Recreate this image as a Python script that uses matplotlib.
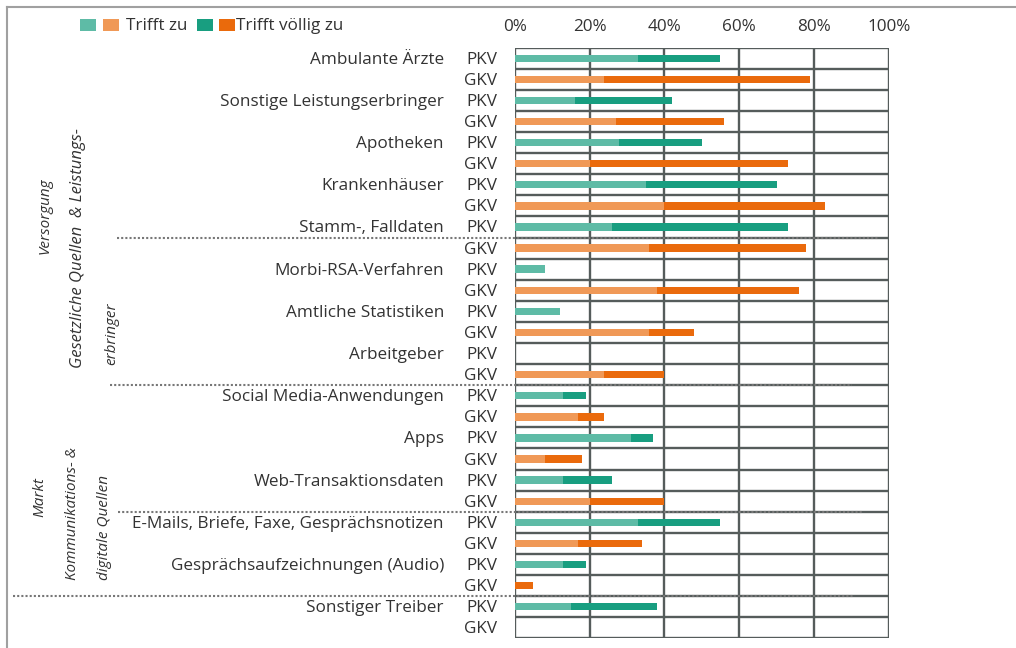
import matplotlib
matplotlib.use("Agg")
import matplotlib.pyplot as plt
import numpy as np
from matplotlib.lines import Line2D
from matplotlib.patches import Rectangle
from matplotlib import transforms

plt.rcParams['font.family'] = ['Open Sans', 'DejaVu Sans']

categories = ["Ambulante Ärzte", "Sonstige Leistungserbringer", "Apotheken",
              "Krankenhäuser", "Stamm-, Falldaten", "Morbi-RSA-Verfahren",
              "Amtliche Statistiken", "Arbeitgeber", "Social Media-Anwendungen",
              "Apps", "Web-Transaktionsdaten",
              "E-Mails, Briefe, Faxe, Gesprächsnotizen",
              "Gesprächsaufzeichnungen (Audio)", "Sonstiger Treiber"]
groups = ["PKV", "GKV"]
pkv_zu = [33, 16, 28, 35, 26, 8, 12, 0, 13, 31, 13, 33, 13, 15]
pkv_voellig = [22, 26, 22, 35, 47, 0, 0, 0, 6, 6, 13, 22, 6, 23]
gkv_zu = [24, 27, 20, 40, 36, 38, 36, 24, 17, 8, 20, 17, 0, 0]
gkv_voellig = [55, 29, 53, 43, 42, 38, 12, 16, 7, 10, 20, 17, 5, 0]
x_ticks = [0, 20, 40, 60, 80, 100]
x_tick_labels = ["0%", "20%", "40%", "60%", "80%", "100%"]
legend_labels = ["Trifft zu", "Trifft völlig zu"]

C_PKV_ZU = "#5EBBA6"
C_PKV_VZ = "#189E80"
C_GKV_ZU = "#F09957"
C_GKV_VZ = "#EA6A0C"
GRID = "#555C5B"
TXT = "#333333"
FS = 12.3

W, H = 1016, 648
fig = plt.figure(figsize=(W / 100, H / 100), dpi=100)
fig.patch.set_facecolor("white")

ax_l, ax_r, ax_t, ax_b = 514.7, 888.7, 47.7, 638.3
ax = fig.add_axes([ax_l / W, 1 - ax_b / H, (ax_r - ax_l) / W, (ax_b - ax_t) / H])

n = len(categories)
nrows = 2 * n
pkv_y = np.arange(n) * 2
gkv_y = pkv_y + 1
bh = 0.35

ax.barh(pkv_y, pkv_zu, height=bh, color=C_PKV_ZU, zorder=3)
ax.barh(pkv_y, pkv_voellig, left=pkv_zu, height=bh, color=C_PKV_VZ, zorder=3)
ax.barh(gkv_y, gkv_zu, height=bh, color=C_GKV_ZU, zorder=3)
ax.barh(gkv_y, gkv_voellig, left=gkv_zu, height=bh, color=C_GKV_VZ, zorder=3)

ax.set_xlim(0, 100)
ax.set_ylim(nrows - 0.5, -0.5)

for b in np.arange(nrows + 1) - 0.5:
    ax.axhline(b, color=GRID, lw=1.7, zorder=2)
for xv in x_ticks:
    ax.axvline(xv, color=GRID, lw=1.7, zorder=2)

for s in ax.spines.values():
    s.set_visible(False)

ax.xaxis.tick_top()
ax.set_xticks(x_ticks)
ax.set_xticklabels(x_tick_labels)
ax.tick_params(axis='x', length=0, pad=9.5, labelsize=FS, labelcolor=TXT)
ax.set_yticks([])

shift = transforms.ScaledTranslation(0, -1.5 / 100, fig.dpi_scale_trans)
ytr = ax.get_yaxis_transform() + shift
cat_x = (444 - ax_l) / (ax_r - ax_l)
grp_x = (497 - ax_l) / (ax_r - ax_l)
for i, c in enumerate(categories):
    ax.text(cat_x, pkv_y[i], c, transform=ytr,
            ha='right', va='center', fontsize=FS, color=TXT)
    ax.text(grp_x, pkv_y[i], groups[0], transform=ytr,
            ha='right', va='center', fontsize=FS, color=TXT)
    ax.text(grp_x, gkv_y[i], groups[1], transform=ytr,
            ha='right', va='center', fontsize=FS, color=TXT)

# dotted separators
blend = transforms.blended_transform_factory(fig.transFigure, ax.transData)
seps = [(8.5, 117, 879), (15.5, 110, 852), (21.5, 118, 863), (25.5, 13, 854)]
for yb, x0, x1 in seps:
    fig.add_artist(Line2D([x0 / W, x1 / W], [yb, yb], transform=blend,
                          color="#777777", lw=1.5, linestyle=(0, (1, 1)),
                          zorder=5))

# rotated group labels
def px(x, y):
    return x / W, 1 - y / H

kw = dict(rotation=90, style='italic', color=TXT)
fig.text(*px(45, 216), "Versorgung", ha='center', va='center', fontsize=11, **kw)
fig.text(*px(78, 368), "Gesetzliche Quellen  & Leistungs-", ha='center', va='bottom',
         fontsize=12, **kw)
fig.text(*px(112, 365), "erbringer", ha='center', va='bottom', fontsize=11, **kw)
fig.text(*px(40, 497), "Markt", ha='center', va='center', fontsize=11, **kw)
fig.text(*px(72, 580), "Kommunikations- &", ha='center', va='bottom', fontsize=11, **kw)
fig.text(*px(105, 580), "digitale Quellen", ha='center', va='bottom', fontsize=11, **kw)

# legend
for x0, col in [(80, C_PKV_ZU), (103, C_GKV_ZU), (197, C_PKV_VZ), (219, C_GKV_VZ)]:
    fig.add_artist(Rectangle(px(x0, 31), 16 / W, 12 / H, transform=fig.transFigure,
                             facecolor=col, edgecolor='none'))
fig.text(*px(126, 26), legend_labels[0], ha='left', va='center', fontsize=FS, color=TXT)
fig.text(*px(236, 26), legend_labels[1], ha='left', va='center', fontsize=FS, color=TXT)

# frame
fig.add_artist(Line2D([7 / W, 7 / W], [0, 1 - 7 / H], transform=fig.transFigure,
                      color="#A0A0A0", lw=1.5))
fig.add_artist(Line2D([7 / W, 1], [1 - 7 / H, 1 - 7 / H], transform=fig.transFigure,
                      color="#A0A0A0", lw=1.5))

fig.savefig("out.png", dpi=100)
